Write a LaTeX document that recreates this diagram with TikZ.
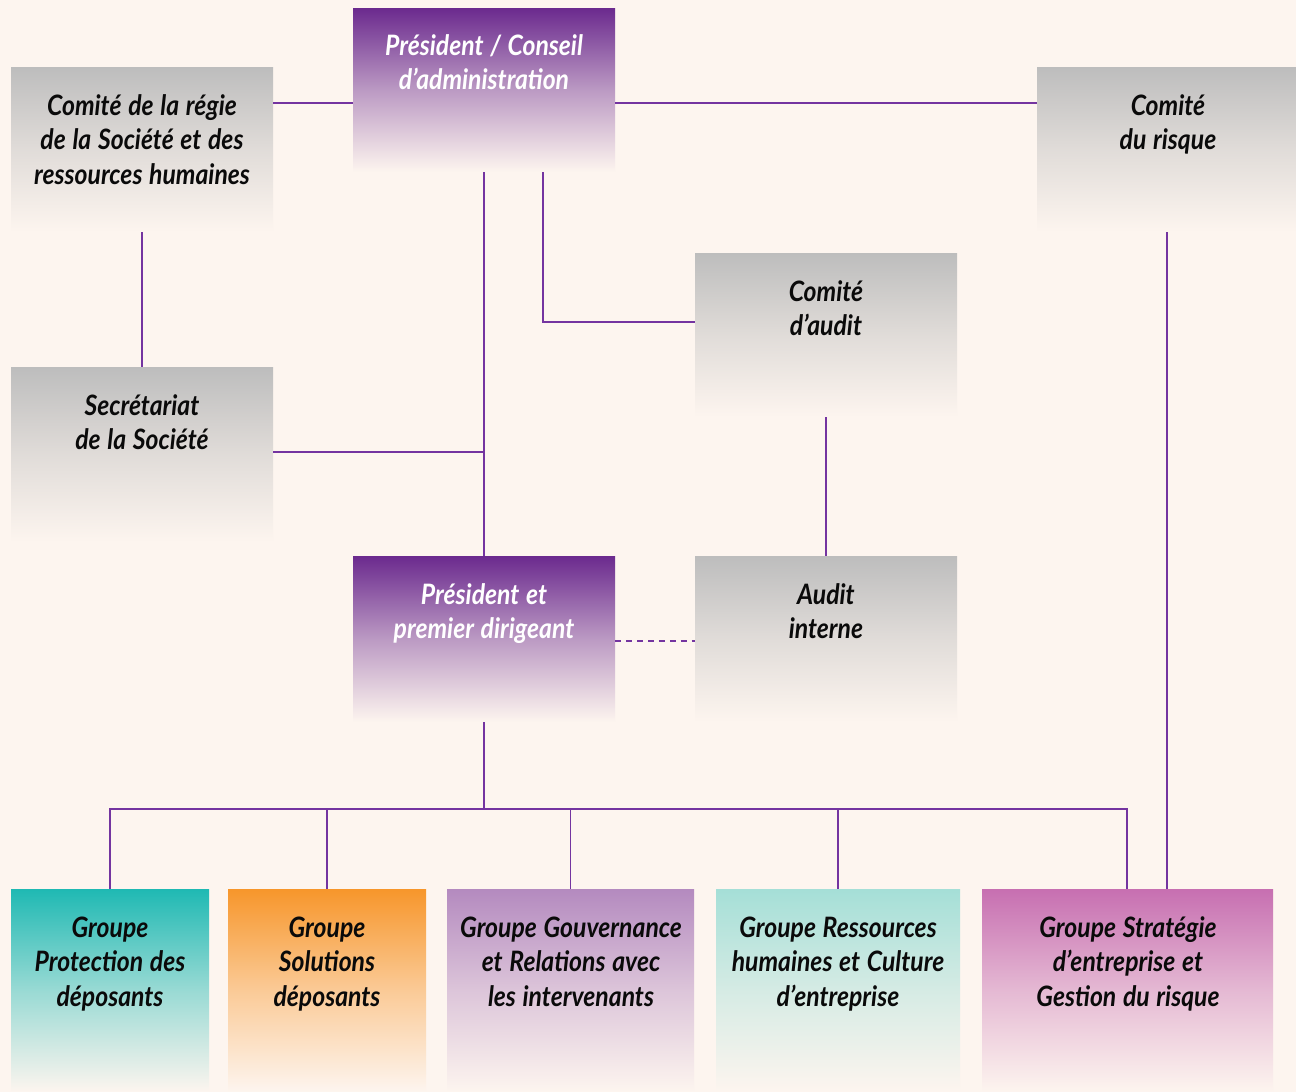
\documentclass[tikz,border=0pt]{standalone}
\usepackage{fontspec}
\setmainfont{Lato}[FakeStretch=0.88]
\usetikzlibrary{fit}
\definecolor{bg}{HTML}{FDF5EF}
\definecolor{lnk}{HTML}{7434A0}
\definecolor{pdark}{HTML}{6B2A8E}
\definecolor{gtop}{HTML}{BDBDBD}
\definecolor{teal}{HTML}{1FB9B3}
\definecolor{orng}{HTML}{F7962B}
\definecolor{lav}{HTML}{B48ABF}
\definecolor{lteal}{HTML}{A5DFD7}
\definecolor{pink}{HTML}{C76FB1}
\definecolor{txtdark}{HTML}{0A0A0A}
\newcommand{\boxfont}{\fontsize{16}{19.7}\selectfont\bfseries\itshape}
\tikzset{
  boxshade/.style={inner sep=0pt, draw=none, top color=#1, bottom color=bg, middle color=#1!45!bg},
  link/.style={draw=lnk, line width=0.9pt},
  dlink/.style={draw=lnk, line width=0.9pt, dash pattern=on 3.4pt off 2.8pt},
  txt/.style={anchor=base, align=center, inner sep=0pt, text width=8cm,
    font=\boxfont, text=txtdark, execute at begin node={\spaceskip=3.8pt\relax\xspaceskip=3.8pt\relax}},
  wtxt/.style={txt, text=white},
}
\begin{document}
\begin{tikzpicture}[x=0.02cm, y=-0.02cm]
\fill[bg] (0,0) rectangle (1296,1092);
\useasboundingbox (0,0) rectangle (1296,1092);

% boxes
\node[boxshade=pdark, fit={(353,8) (615,172)}] (pca) {};
\node[boxshade=gtop, fit={(11,67) (273,232)}] (regie) {};
\node[boxshade=gtop, fit={(1037,67) (1296,232)}] (risque) {};
\node[boxshade=gtop, fit={(695,253) (957,417)}] (audit) {};
\node[boxshade=gtop, fit={(11,367) (273,542)}] (secr) {};
\node[boxshade=pdark, fit={(353,556) (615,722)}] (pdg) {};
\node[boxshade=gtop, fit={(695,556) (957,722)}] (ai) {};
\node[boxshade=teal, fit={(11,889) (209,1092)}] (g1) {};
\node[boxshade=orng, fit={(228,889) (426,1092)}] (g2) {};
\node[boxshade=lav, fit={(447,889) (694,1092)}] (g3) {};
\node[boxshade=lteal, fit={(716,889) (960,1092)}] (g4) {};
\node[boxshade=pink, fit={(982,889) (1273,1092)}] (g5) {};

% texts
\node[wtxt] (pcat) at (484,55) {Président / Conseil\\d’administration};
\node[txt] (regiet) at (142,115) {Comité de la régie\\de la Société et des\\ressources humaines};
\node[txt] (risquet) at (1168,115) {Comité\\du risque};
\node[txt] (auditt) at (826,301) {Comité\\d’audit};
\node[txt] (secrt) at (142,415) {Secrétariat\\de la Société};
\node[wtxt] (pdgt) at (484,604) {Président et\\premier dirigeant};
\node[txt] (ait) at (826,604) {Audit\\interne};
\node[txt] (g1t) at (110,937) {Groupe\\Protection des\\déposants};
\node[txt] (g2t) at (327,937) {Groupe\\Solutions\\déposants};
\node[txt] (g3t) at (571,937) {Groupe Gouvernance\\et Relations avec\\les intervenants};
\node[txt] (g4t) at (838,937) {Groupe Ressources\\humaines et Culture\\d’entreprise};
\node[txt] (g5t) at (1128,937) {Groupe Stratégie\\d’entreprise et\\Gestion du risque};

% helper coordinates
\coordinate (ya) at (0,103);
\coordinate (xb) at (543,0);
\coordinate (yb) at (0,322);
\coordinate (yc) at (0,452);
\coordinate (yd) at (0,641);
\coordinate (bus) at (0,809);
\coordinate (xr) at (1167,0);
\coordinate (g5top) at (1127,889);
\coordinate (g5bus) at (1127,809);

% connectors
\draw[link] (regie.east |- ya) -- (pca.west |- ya);
\draw[link] (pca.east |- ya) -- (risque.west |- ya);
\draw[link] (pca.south) -- (pdg.north);
\draw[link] (pca.south -| xb) |- (audit.west |- yb);
\draw[link] (regie.south) -- (secr.north);
\draw[link] (secr.east |- yc) -- (pca.south |- yc);
\draw[link] (audit.south) -- (ai.north);
\draw[dlink] (pdg.east |- yd) -- (ai.west |- yd);
\draw[link] (pdg.south) -- (pdg.south |- bus);
\draw[link] (g1.north) -- (g1.north |- bus) -- (g5bus) -- (g5top);
\draw[link] (g2.north) -- (g2.north |- bus);
\draw[link] (g3.north) -- (g3.north |- bus);
\draw[link] (g4.north) -- (g4.north |- bus);
\draw[link] (risque.south -| xr) -- (g5.north -| xr);
\end{tikzpicture}
\end{document}
